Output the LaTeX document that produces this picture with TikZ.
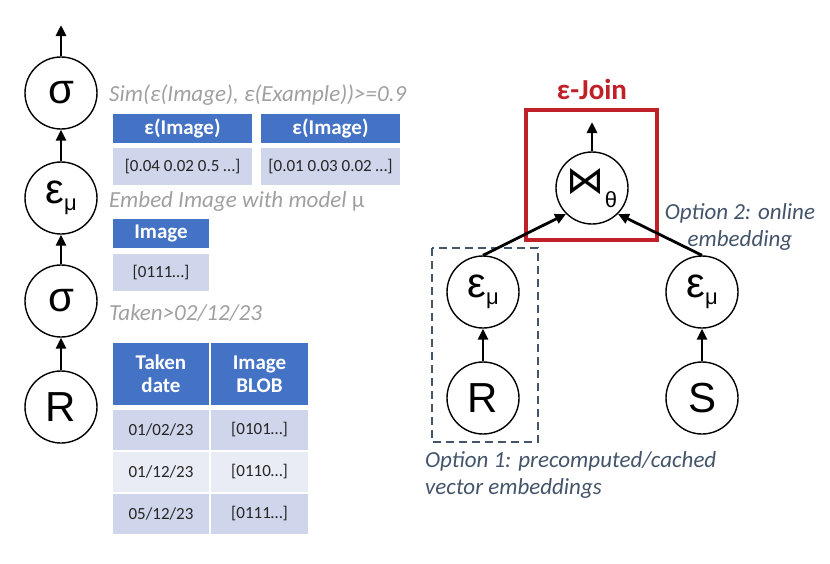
\documentclass[tikz,border=0pt]{standalone}
\usepackage{fontspec}
\setmainfont{Carlito}
\newfontfamily\circfont{Liberation Sans}
\newfontfamily\bowfont{DejaVu Sans}
\usetikzlibrary{arrows.meta}
\definecolor{hdrblue}{RGB}{68,114,196}
\definecolor{cellA}{RGB}{207,213,234}
\definecolor{cellB}{RGB}{233,235,245}
\definecolor{notegray}{RGB}{160,160,160}
\definecolor{slate}{RGB}{68,84,106}
\definecolor{joinred}{RGB}{192,32,40}
\newcommand{\embop}{ε\raisebox{-0.3ex}{\fontsize{22}{22}\selectfont μ}}
\newcommand{\joinop}{{\bowfont\fontsize{38}{38}\selectfont ⋈}\raisebox{-0.6ex}{\fontsize{22}{22}\selectfont θ}}
\begin{document}
\begin{tikzpicture}[x=1pt,y=-1pt,
    op node/.style={circle,draw,line width=1.4pt,minimum size=72pt,inner sep=0pt,font=\circfont\fontsize{42}{42}\selectfont},
    flow/.style={-{Triangle[length=11pt,width=10pt]},line width=2.8pt},
    note/.style={anchor=west,inner sep=0pt,text=notegray,font=\fontsize{23}{27}\selectfont\itshape},
    opt note/.style={inner sep=0pt,text=slate,font=\fontsize{23}{27}\selectfont\itshape},
    head/.style={fill=hdrblue,text=white,inner sep=0pt,align=center,font=\fontsize{21}{23}\selectfont\bfseries},
    cell/.style={fill=cellA,inner sep=0pt,text=black!85,font=\fontsize{17}{19}\selectfont},
    light cell/.style={cell,fill=cellB}]

    \useasboundingbox (0,0) rectangle (830,563);

    % left plan
    \node[op node] at (61, 93) (sel2) {σ};
    \node[op node] at (61, 198) (emb) {\embop};
    \node[op node] at (61, 301) (sel1) {σ};
    \node[op node] at (61, 407) (rel) {R};
    \coordinate (top) at (61, 25);

    \draw[flow] (rel) -- (sel1);
    \draw[flow] (sel1) -- (emb);
    \draw[flow] (emb) -- (sel2);
    \draw[flow] (sel2) -- (top);

    \node[note] at (109, 95) (simtxt) {Sim(ε(Image), ε(Example))>=0.9};
    \node[note] at (109, 201) (embtxt) {Embed Image with model {\upshape μ}};
    \node[note] at (109, 313) (taketxt) {Taken>02/12/23};

    % embedded vectors
    \node[head,minimum width=139pt,minimum height=29pt] at (182.5, 128) (vh1) {ε(Image)};
    \node[cell,minimum width=139pt,minimum height=37pt] at (182.5, 166.5) (vc1) {[0.04 0.02 0.5 …]};
    \node[head,minimum width=139pt,minimum height=29pt] at (330.5, 128) (vh2) {ε(Image)};
    \node[cell,minimum width=139pt,minimum height=37pt] at (330.5, 166.5) (vc2) {[0.01 0.03 0.02 …]};

    % projected image
    \node[head,minimum width=96pt,minimum height=29pt] at (161, 233.5) (ih) {Image};
    \node[cell,minimum width=96pt,minimum height=37pt] at (161, 272.5) (ic) {[0111…]};

    % base table
    \node[head,minimum width=96pt,minimum height=62pt] at (161, 374) (th1) {Taken\\date};
    \node[head,minimum width=97pt,minimum height=62pt] at (259.5, 374) (th2) {Image\\BLOB};
    \node[cell,minimum width=96pt,minimum height=40pt] at (161, 430) (t11) {01/02/23};
    \node[cell,minimum width=97pt,minimum height=40pt] at (259.5, 430) (t12) {[0101…]};
    \node[light cell,minimum width=96pt,minimum height=40pt] at (161, 472) (t21) {01/12/23};
    \node[light cell,minimum width=97pt,minimum height=40pt] at (259.5, 472) (t22) {[0110…]};
    \node[cell,minimum width=96pt,minimum height=40pt] at (161, 514) (t31) {05/12/23};
    \node[cell,minimum width=97pt,minimum height=40pt] at (259.5, 514) (t32) {[0111…]};

    % join plan
    \node[text=joinred,font=\fontsize{29}{29}\selectfont\bfseries] at (592, 89) (jtitle) {ε-Join};
    \draw[joinred,line width=3.5pt] (526, 110) rectangle (657, 240);
    \node[op node] at (592, 188) (join) {\joinop};
    \coordinate (jout) at (592, 122);
    \node[op node] at (483, 292) (embl) {\embop};
    \node[op node] at (483, 398) (rl) {R};
    \node[op node] at (702, 292) (embr) {\embop};
    \node[op node] at (702, 398) (sr) {S};
    \draw[slate,line width=2pt,dash pattern=on 8pt off 5pt] (432, 248) rectangle (538, 442);

    \draw[flow] (join) -- (jout);
    \draw[flow] (embl.north) -- (join.225);
    \draw[flow] (embr.north) -- (join.315);
    \draw[flow] (rl) -- (embl);
    \draw[flow] (sr) -- (embr);

    \node[opt note,align=center] at (740, 227) (opt2) {Option 2: online\\embedding};
    \node[opt note,align=left,anchor=north west] at (425, 451) (opt1) {Option 1: precomputed/cached\\vector embeddings};
\end{tikzpicture}
\end{document}
